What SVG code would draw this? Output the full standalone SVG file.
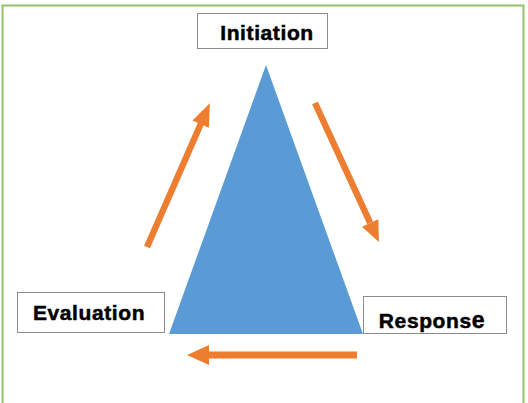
<svg xmlns="http://www.w3.org/2000/svg" width="528" height="403" viewBox="0 0 528 403">
<style>
.box{fill:#ffffff;stroke:#8c8c8c;stroke-width:1}
.lbl{font-family:"Liberation Sans",Arial,sans-serif;font-weight:bold;font-size:21px;letter-spacing:0.6px;fill:#000000;stroke:#000000;stroke-width:0.5}
.arr{fill:#ED7D31}
</style>
<defs>
<clipPath id="rc"><rect x="363" y="296" width="143" height="37"/></clipPath>
</defs>
<rect x="2.5" y="5.5" width="521" height="420" fill="#ffffff" stroke="#93c16a" stroke-width="2"/>
<g id="triangle">
<polygon points="266,65 363,334 169,334" fill="#5B9BD5"/>
</g>
<g id="initiation">
<rect class="box" x="197.5" y="13.5" width="130" height="35"/>
<text class="lbl" x="267" y="40" text-anchor="middle">Initiation</text>
</g>
<g id="evaluation">
<rect class="box" x="17.5" y="292.5" width="147" height="40"/>
<text class="lbl" x="89" y="320" text-anchor="middle">Evaluation</text>
</g>
<g id="response">
<rect class="box" x="363.5" y="296.5" width="143" height="37"/>
<g clip-path="url(#rc)">
<text class="lbl" x="432" y="328" text-anchor="middle">Respons<tspan font-size="23px">e</tspan></text>
</g>
</g>
<g id="connectors">
<g transform="translate(147,247) rotate(-66.4)">
<rect class="arr" x="0" y="-3.2" width="138" height="6.4"/>
<polygon class="arr" points="134,-9 157,0 134,9"/>
</g>
<g transform="translate(315,103) rotate(65.3)">
<rect class="arr" x="0" y="-3.2" width="132" height="6.4"/>
<polygon class="arr" points="132,-9 153,0 132,9"/>
</g>
<g transform="translate(357,355) rotate(180)">
<rect class="arr" x="0" y="-3.5" width="150" height="7"/>
<polygon class="arr" points="148,-10 170,0 148,10"/>
</g>
</g>
</svg>
